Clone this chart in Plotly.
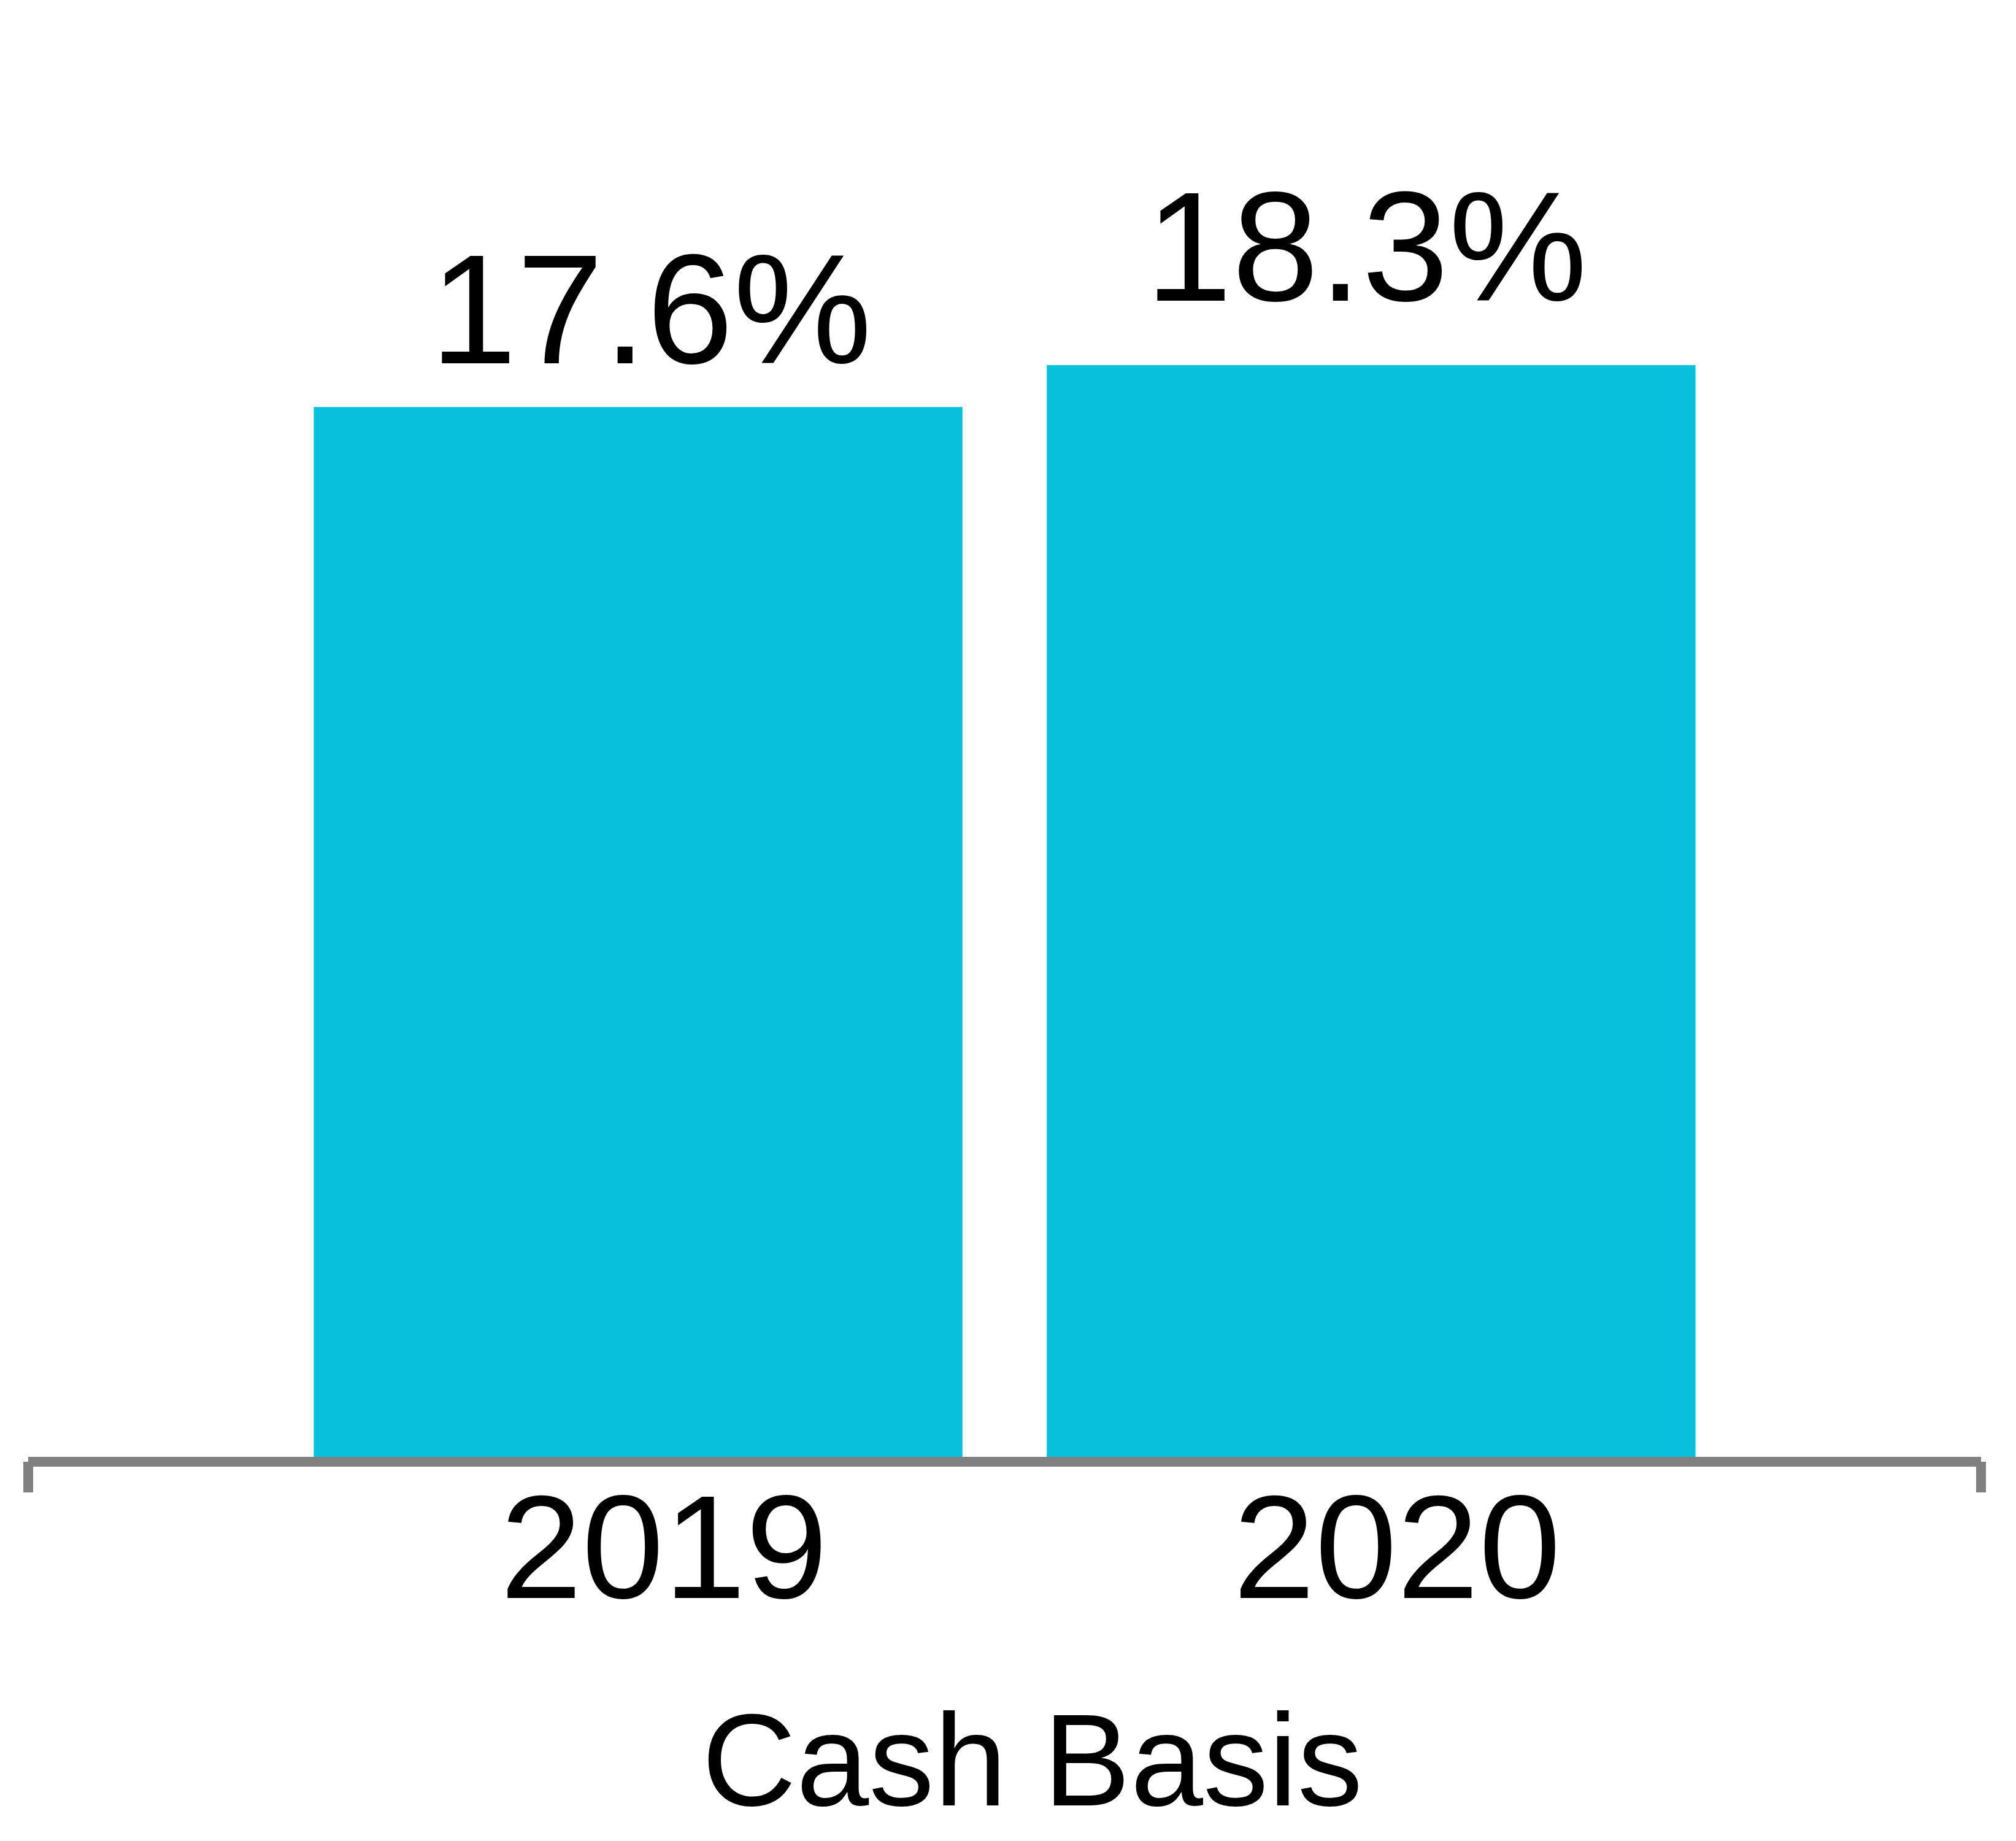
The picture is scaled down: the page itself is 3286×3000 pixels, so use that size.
import plotly.graph_objects as go

categories = ["2019", "2020"]
values = [17.6, 18.3]
labels = ["17.6%", "18.3%"]
axis_title = "Cash Basis"

# label placement offsets (pixels) — styling only
label_xshift = [21, -8]
label_yshift = [159, 193]

BAR_COLOR = "#07C1DC"
AXIS_COLOR = "#808080"
FONT = "Liberation Sans, Arial, sans-serif"

W, H = 3286, 3000
M = dict(l=38, r=65, t=128, b=626)
plot_h = H - M["t"] - M["b"]

fig = go.Figure()
fig.add_trace(go.Bar(
    x=categories, y=values,
    marker=dict(color=BAR_COLOR, line=dict(width=0)),
    hoverinfo="skip",
))

for i, (v, t, dx, dy) in enumerate(zip(values, labels, label_xshift, label_yshift)):
    fig.add_annotation(text=t, x=i, y=v, xref="x", yref="y",
                       xanchor="center", yanchor="middle",
                       xshift=dx, yshift=dy, showarrow=False,
                       font=dict(family=FONT, size=254, color="#000000"))

# axis line and end ticks
fig.add_shape(type="line", xref="paper", yref="paper", x0=0, x1=1, y0=0, y1=0,
              line=dict(color=AXIS_COLOR, width=16), layer="above")
for xp in (0, 1):
    fig.add_shape(type="line", xref="paper", yref="paper",
                  x0=xp, x1=xp, y0=0, y1=-50 / plot_h,
                  line=dict(color=AXIS_COLOR, width=16), layer="above")

fig.add_annotation(text=axis_title, xref="paper", yref="paper", x=0.514, y=-0.2164,
                   xanchor="center", yanchor="middle", showarrow=False,
                   font=dict(family=FONT, size=213, color="#000000"))

fig.update_layout(
    width=W, height=H,
    margin=M,
    paper_bgcolor="white", plot_bgcolor="white",
    bargap=0.115,
    showlegend=False,
    xaxis=dict(type="category", range=[-0.832, 1.832], showline=False, ticks="",
               showgrid=False, zeroline=False,
               tickfont=dict(family=FONT, size=240, color="#000000"),
               ticklabelshift=42, ticklabelstandoff=-19),
    yaxis=dict(range=[0, 23], visible=False, showgrid=False, zeroline=False),
)

fig.write_html("out.html")
